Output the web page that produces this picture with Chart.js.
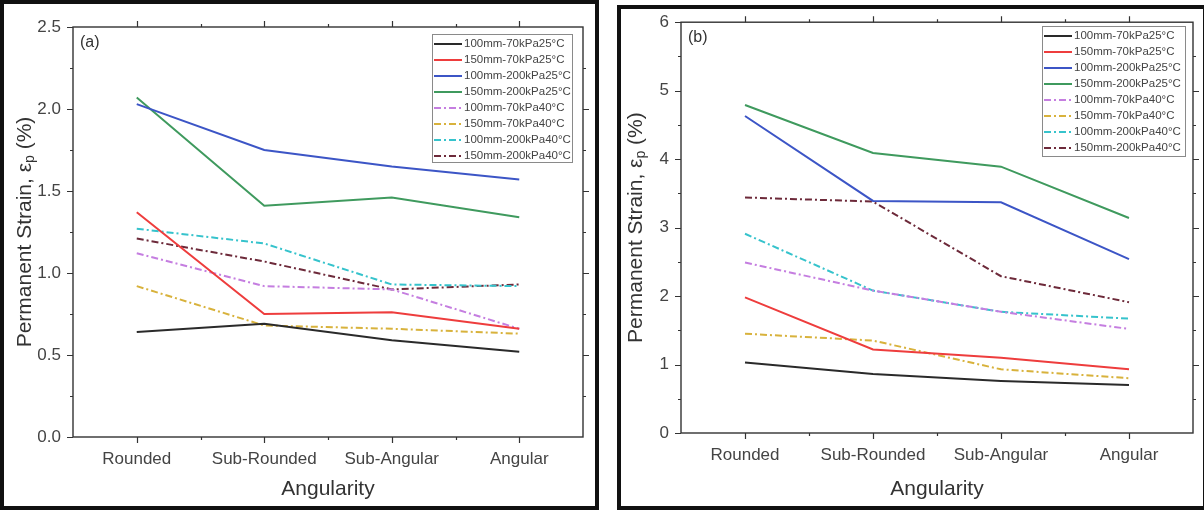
<!DOCTYPE html>
<html><head><meta charset="utf-8">
<script src="https://cdn.jsdelivr.net/npm/chart.js@4/dist/chart.umd.min.js"></script>
<style>
html,body{margin:0;padding:0;background:#fff;}
body{width:1204px;height:511px;position:relative;overflow:hidden;}
.wrap{position:absolute;top:0;height:511px;}
.frame{position:absolute;border:4px solid #111;box-sizing:border-box;pointer-events:none;}
</style></head><body>
<div class="wrap" style="left:0;width:600px"><canvas id="ca" width="600" height="511"></canvas></div>
<div class="wrap" style="left:600px;width:604px"><canvas id="cb" width="604" height="511"></canvas></div>
<div class="frame" style="left:0;top:0;width:599px;height:510px"></div>
<div class="frame" style="left:617px;top:5px;width:590px;height:505px"></div>
<script>
// ---------- data ----------
const categories = ['Rounded', 'Sub-Rounded', 'Sub-Angular', 'Angular'];
const seriesLabels = ['100mm-70kPa25°C', '150mm-70kPa25°C', '100mm-200kPa25°C', '150mm-200kPa25°C',
                      '100mm-70kPa40°C', '150mm-70kPa40°C', '100mm-200kPa40°C', '150mm-200kPa40°C'];
// panel (a)
const a_100_70_25  = [0.64, 0.69, 0.59, 0.52];
const a_150_70_25  = [1.37, 0.75, 0.76, 0.66];
const a_100_200_25 = [2.03, 1.75, 1.65, 1.57];
const a_150_200_25 = [2.07, 1.41, 1.46, 1.34];
const a_100_70_40  = [1.12, 0.92, 0.90, 0.66];
const a_150_70_40  = [0.92, 0.68, 0.66, 0.63];
const a_100_200_40 = [1.27, 1.18, 0.93, 0.92];
const a_150_200_40 = [1.21, 1.07, 0.90, 0.93];
// panel (b)
const b_100_70_25  = [1.03, 0.86, 0.76, 0.70];
const b_150_70_25  = [1.98, 1.22, 1.10, 0.93];
const b_100_200_25 = [4.63, 3.39, 3.37, 2.54];
const b_150_200_25 = [4.79, 4.09, 3.89, 3.14];
const b_100_70_40  = [2.49, 2.08, 1.77, 1.52];
const b_150_70_40  = [1.45, 1.35, 0.93, 0.80];
const b_100_200_40 = [2.91, 2.08, 1.77, 1.67];
const b_150_200_40 = [3.44, 3.38, 2.29, 1.91];
// y tick labels
const yTicksA = ['0.0', '0.5', '1.0', '1.5', '2.0', '2.5'];
const yTicksB = ['0', '1', '2', '3', '4', '5', '6'];

// ---------- styling ----------
const colors = ['#2a2a2a', '#ee3d3d', '#3c55c6', '#3f9a5e', '#c57ee0', '#d8b23c', '#36c3cc', '#6d2a3a'];
const dashDot = [7, 3, 2, 3];
const FONT = "'Liberation Sans', Arial, sans-serif";

function makeDatasets(arrs) {
  return arrs.map((vals, i) => ({
    label: seriesLabels[i],
    data: vals.map((v, k) => ({x: k, y: v})),
    borderColor: colors[i],
    backgroundColor: colors[i],
    borderWidth: i < 4 ? 2 : 2,
    borderDash: i < 4 ? [] : dashDot,
    pointRadius: 0,
    tension: 0,
    fill: false
  }));
}

const framePlugin = {
  id: 'frameTicks',
  afterDraw(chart) {
    const o = chart.options.plugins.frameTicks;
    const ctx = chart.ctx;
    const {left, right, top, bottom} = chart.chartArea;
    const xs = chart.scales.x, ys = chart.scales.y;
    ctx.save();
    ctx.strokeStyle = '#333';
    ctx.lineWidth = 1.4;
    ctx.strokeRect(left, top, right - left, bottom - top);
    ctx.lineWidth = 1.2;
    ctx.beginPath();
    // x ticks
    for (let v = 0; v <= categories.length - 1 + 0.001; v += 0.5) {
      const px = Math.round(xs.getPixelForValue(v)) + 0.5;
      const len = Number.isInteger(v) ? 6 : 3;
      ctx.moveTo(px, bottom); ctx.lineTo(px, bottom + len);
      ctx.moveTo(px, top); ctx.lineTo(px, top - len);
    }
    // y ticks
    for (let v = o.ymin + o.minor; v < o.ymax - 1e-6; v += o.minor) {
      const py = Math.round(ys.getPixelForValue(v)) + 0.5;
      const isMajor = Math.abs(v / o.major - Math.round(v / o.major)) < 1e-6;
      const len = isMajor ? 6 : 3;
      ctx.moveTo(left, py); ctx.lineTo(left - len, py);
      ctx.moveTo(right, py); ctx.lineTo(right + len, py);
    }
    // top-left/major end ticks
    [o.ymin, o.ymax].forEach(v => {
      const py = Math.round(ys.getPixelForValue(v)) + 0.5;
      ctx.moveTo(left, py); ctx.lineTo(left - 6, py);
    });
    ctx.stroke();

    // panel label
    ctx.fillStyle = '#333';
    ctx.font = '16px ' + FONT;
    ctx.textAlign = 'left';
    ctx.textBaseline = 'middle';
    ctx.fillText(o.panel, left + 7, o.panelY);

    // y title with subscript
    ctx.save();
    ctx.translate(o.titleX, (top + bottom) / 2);
    ctx.rotate(-Math.PI / 2);
    ctx.fillStyle = '#333';
    const main = 'Permanent Strain, ε', sub = 'p', rest = ' (%)';
    ctx.font = '21px ' + FONT;
    const w1 = ctx.measureText(main).width, w3 = ctx.measureText(rest).width;
    ctx.font = '14px ' + FONT;
    const w2 = ctx.measureText(sub).width;
    let x0 = -(w1 + w2 + w3) / 2;
    ctx.textAlign = 'left';
    ctx.textBaseline = 'middle';
    ctx.font = '21px ' + FONT;
    ctx.fillText(main, x0, 0);
    ctx.font = '14px ' + FONT;
    ctx.fillText(sub, x0 + w1, 5);
    ctx.font = '21px ' + FONT;
    ctx.fillText(rest, x0 + w1 + w2, 0);
    ctx.restore();

    // legend
    const L = o.legend;
    ctx.strokeStyle = '#8a8a8a';
    ctx.lineWidth = 1;
    ctx.strokeRect(L.x + 0.5, L.y + 0.5, L.w, L.h);
    ctx.font = '11.5px ' + FONT;
    ctx.textBaseline = 'middle';
    chart.data.datasets.forEach((ds, i) => {
      const y = L.y + L.first + i * L.row;
      ctx.strokeStyle = ds.borderColor;
      ctx.lineWidth = 2;
      ctx.setLineDash(ds.borderDash || []);
      ctx.beginPath();
      ctx.moveTo(L.x + 2, y); ctx.lineTo(L.x + 30, y);
      ctx.stroke();
      ctx.setLineDash([]);
      ctx.fillStyle = '#444';
      ctx.fillText(ds.label, L.x + 32, y);
    });
    ctx.restore();
  }
};

function makeChart(id, datasets, cfg) {
  return new Chart(document.getElementById(id), {
    type: 'line',
    data: {datasets},
    plugins: [framePlugin],
    options: {
      responsive: false,
      animation: false,
      devicePixelRatio: 1,
      layout: {padding: {left: 0, right: cfg.padRight, top: cfg.padTop, bottom: 0}},
      plugins: {
        legend: {display: false},
        tooltip: {enabled: false},
        frameTicks: cfg.frame
      },
      scales: {
        x: {
          type: 'linear', min: -0.5, max: categories.length - 0.5,
          afterBuildTicks: s => { s.ticks = categories.map((c, i) => ({value: i})); },
          afterFit: s => { s.height = cfg.xHeight; },
          ticks: {
            callback: v => categories[v] ?? '',
            font: {family: FONT, size: 17}, color: '#444', padding: 12,
            autoSkip: false, maxRotation: 0
          },
          grid: {display: false, drawTicks: false},
          border: {display: false},
          title: {display: true, text: 'Angularity', font: {family: FONT, size: 21}, color: '#333', padding: {top: 0, bottom: 9}}
        },
        y: {
          min: cfg.frame.ymin, max: cfg.frame.ymax,
          afterBuildTicks: s => { s.ticks = cfg.yTicks.map(t => ({value: parseFloat(t)})); },
          afterFit: s => { s.width = cfg.yWidth; },
          ticks: {
            callback: (v, i) => cfg.yTicks[i],
            font: {family: FONT, size: 17}, color: '#444', padding: 12
          },
          grid: {display: false, drawTicks: false},
          border: {display: false}
        }
      }
    }
  });
}

makeChart('ca', makeDatasets([a_100_70_25, a_150_70_25, a_100_200_25, a_150_200_25, a_100_70_40, a_150_70_40, a_100_200_40, a_150_200_40]), {
  padRight: 17, padTop: 27, xHeight: 74, yWidth: 73, yTicks: yTicksA,
  frame: {ymin: 0, ymax: 2.5, major: 0.5, minor: 0.25, panel: '(a)', panelY: 43, titleX: 25,
          legend: {x: 432, y: 34, w: 140, h: 128, first: 10, row: 16}}
});
makeChart('cb', makeDatasets([b_100_70_25, b_150_70_25, b_100_200_25, b_150_200_25, b_100_70_40, b_150_70_40, b_100_200_40, b_150_200_40]), {
  padRight: 11, padTop: 21, xHeight: 78, yWidth: 81, yTicks: yTicksB,
  frame: {ymin: 0, ymax: 6, major: 1, minor: 0.5, panel: '(b)', panelY: 38, titleX: 36,
          legend: {x: 442, y: 26, w: 143, h: 130, first: 10, row: 16}}
});
</script>
</body></html>
